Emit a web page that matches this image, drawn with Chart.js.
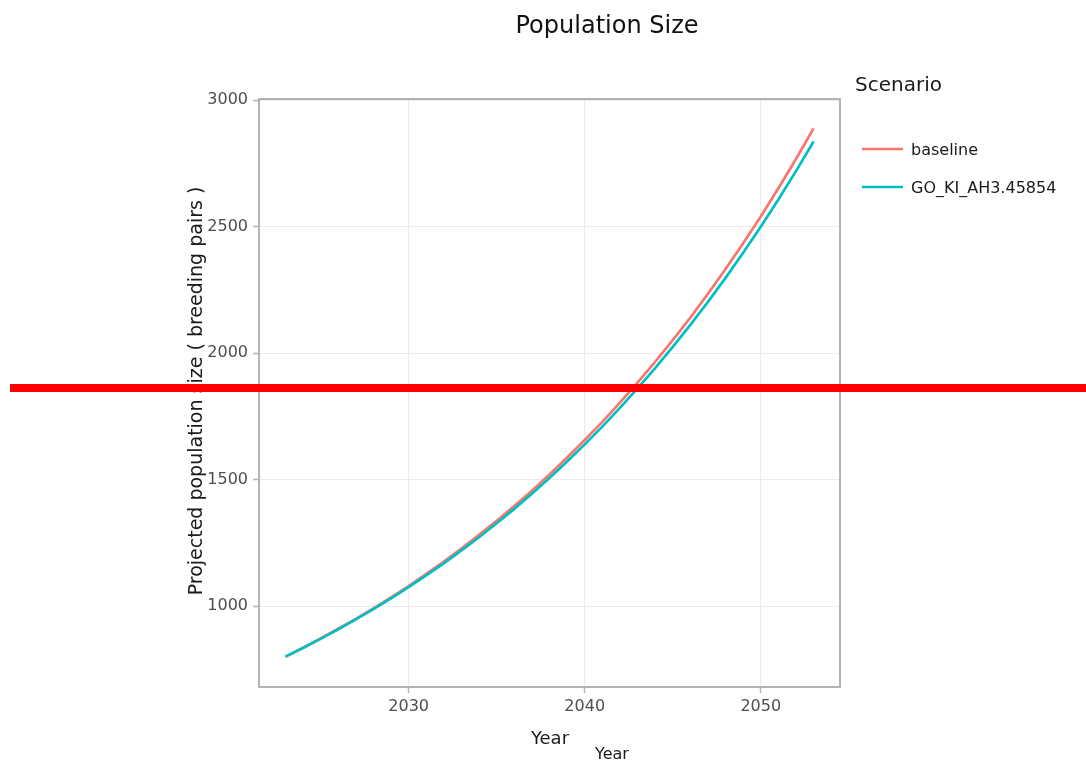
<!DOCTYPE html>
<html>
<head>
<meta charset="utf-8">
<script src="https://cdn.jsdelivr.net/npm/chart.js@4"></script>
<style>
  html, body { margin: 0; padding: 0; background: #fff; }
</style>
</head>
<body>
<canvas id="chartCanvas" width="1086" height="760"></canvas>
<script>
// values
const years = [2023, 2024, 2025, 2026, 2027, 2028, 2029, 2030, 2031, 2032, 2033, 2034, 2035, 2036, 2037,
    2038, 2039, 2040, 2041, 2042, 2043, 2044, 2045, 2046, 2047, 2048, 2049, 2050, 2051, 2052, 2053];
const baseline = [800, 835, 872, 910, 949, 991, 1034, 1079, 1127, 1176, 1227, 1281, 1337, 1395, 1456,
    1520, 1587, 1656, 1728, 1804, 1883, 1965, 2051, 2140, 2234, 2332, 2434, 2540, 2651, 2767, 2888];
const goKi = [800, 834, 870, 908, 947, 988, 1030, 1075, 1121, 1169, 1220, 1272, 1327, 1384, 1444,
    1506, 1571, 1639, 1709, 1783, 1860, 1940, 2024, 2111, 2202, 2297, 2396, 2499, 2607, 2719, 2836];
const seriesNames = ["baseline", "GO_KI_AH3.45854"];
const seriesColors = ["#F8766D", "#00BFC4"];
const xTicks = [2030, 2040, 2050];
const yTicks = [1000, 1500, 2000, 2500, 3000];

const FONT = "DejaVu Sans";
const frameColor = "#b3b3b3";

const toPoints = (vals) => years.map((yr, i) => ({ x: yr, y: vals[i] }));

// titles, legend, frame and the red marker line are drawn by hand
const decor = {
    id: "decor",
    afterDatasetsDraw(chart) {
        const { ctx, chartArea: a } = chart;
        ctx.save();
        ctx.strokeStyle = frameColor;
        ctx.lineWidth = 2;
        ctx.strokeRect(a.left, a.top, a.right - a.left, a.bottom - a.top);
        ctx.restore();
    },
    afterDraw(chart) {
        const ctx = chart.ctx;
        ctx.save();
        ctx.fillStyle = "#111";
        ctx.textBaseline = "alphabetic";

        ctx.font = `24px "${FONT}"`;
        ctx.textAlign = "center";
        ctx.fillText("Population Size", 607, 33);

        ctx.fillStyle = "#1a1a1a";
        ctx.font = `18px "${FONT}"`;
        ctx.fillText("Year", 550, 744);
        ctx.font = `16px "${FONT}"`;
        ctx.fillText("Year", 612, 759);

        ctx.save();
        ctx.translate(202, 391);
        ctx.rotate(-Math.PI / 2);
        ctx.font = `19px "${FONT}"`;
        ctx.fillText("Projected population size ( breeding pairs )", 0, 0);
        ctx.restore();

        // legend
        ctx.textAlign = "left";
        ctx.font = `20px "${FONT}"`;
        ctx.fillText("Scenario", 855, 91);
        const rows = [149, 187];
        ctx.font = `16px "${FONT}"`;
        seriesNames.forEach((name, i) => {
            ctx.strokeStyle = seriesColors[i];
            ctx.lineWidth = 2.5;
            ctx.beginPath();
            ctx.moveTo(862, rows[i]);
            ctx.lineTo(903, rows[i]);
            ctx.stroke();
            ctx.fillStyle = "#1a1a1a";
            ctx.fillText(name, 911, rows[i] + 6);
        });

        // red horizontal marker
        ctx.fillStyle = "#ff0000";
        ctx.fillRect(10, 384, 1076, 8);
        ctx.restore();
    },
};

const ctx = document.getElementById("chartCanvas").getContext("2d");

new Chart(ctx, {
    type: "line",
    data: {
        datasets: [
            {
                label: seriesNames[0],
                data: toPoints(baseline),
                borderColor: seriesColors[0],
                borderWidth: 2.7,
                pointRadius: 0,
                tension: 0,
                order: 1,
            },
            {
                label: seriesNames[1],
                data: toPoints(goKi),
                borderColor: seriesColors[1],
                borderWidth: 2.7,
                pointRadius: 0,
                tension: 0,
                order: 0, // drawn on top
            },
        ],
    },
    options: {
        responsive: false,
        animation: false,
        layout: { padding: { top: 99, right: 246, bottom: 0, left: 0 } },
        plugins: {
            legend: { display: false },
            title: { display: false },
            tooltip: { enabled: false },
        },
        scales: {
            x: {
                type: "linear",
                min: 2021.5,
                max: 2054.5,
                afterBuildTicks: (s) => { s.ticks = xTicks.map((v) => ({ value: v })); },
                afterFit: (s) => { s.height = 73; },
                border: { display: false },
                grid: { color: "#ebebeb", lineWidth: 1, tickLength: 6, tickColor: frameColor, tickWidth: 1.5 },
                ticks: {
                    font: { family: FONT, size: 16 },
                    color: "#4d4d4d",
                    padding: 4,
                    maxRotation: 0,
                    callback: (v) => String(v),
                },
            },
            y: {
                min: 680,
                max: 3004,
                afterBuildTicks: (s) => { s.ticks = yTicks.map((v) => ({ value: v })); },
                afterFit: (s) => { s.width = 259; },
                border: { display: false },
                grid: { color: "#ebebeb", lineWidth: 1, tickLength: 6, tickColor: frameColor, tickWidth: 1.5 },
                ticks: {
                    font: { family: FONT, size: 16 },
                    color: "#4d4d4d",
                    padding: 5,
                    callback: (v) => String(v),
                },
            },
        },
    },
    plugins: [decor],
});
</script>
</body>
</html>
